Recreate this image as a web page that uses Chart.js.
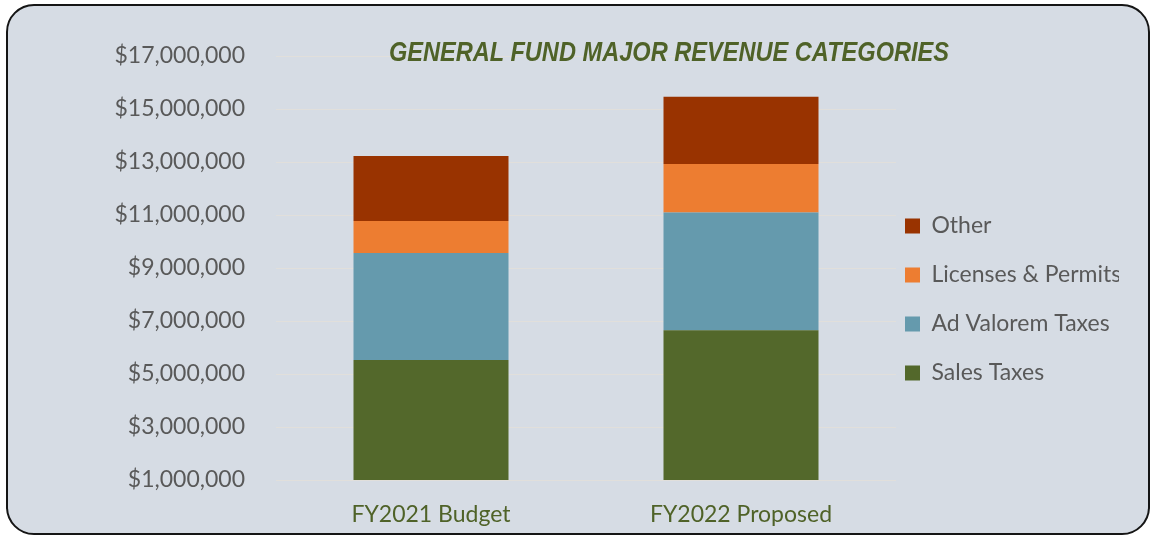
<!DOCTYPE html>
<html>
<head>
<meta charset="utf-8">
<title>General Fund Major Revenue Categories</title>
<script src="https://cdn.jsdelivr.net/npm/chart.js@4.4.0/dist/chart.umd.min.js"></script>
<style>
  html, body { margin: 0; padding: 0; background: #fff; }
  body { width: 1151px; height: 535px; overflow: hidden; position: relative; }
  .frame {
    position: absolute; left: 6px; top: 4px; width: 1144px; height: 531px;
    box-sizing: border-box; border: 2px solid #151515; border-radius: 28px;
    background: #d6dce4;
  }
  .chart-wrap { position: absolute; left: 0; top: 0; width: 1151px; height: 543px; }
  .chart-title {
    position: absolute; left: 0; top: 38px; width: 1338px;
    text-align: center; white-space: nowrap;
    font: italic bold 28px/28px "Liberation Sans", Arial, sans-serif;
    color: #4f6228;
    transform: scaleX(0.8425); transform-origin: 50% 0;
  }
</style>
</head>
<body>
<div class="frame"></div>
<div class="chart-wrap"><canvas id="revenueChart"></canvas></div>
<div class="chart-title">GENERAL FUND MAJOR REVENUE CATEGORIES</div>

<script>
// ====== Data ======
const CATEGORIES = ["FY2021 Budget", "FY2022 Proposed"];
const SALES_TAXES = [5530000, 6650000];
const AD_VALOREM = [4040000, 4440000];
const LICENSES = [1200000, 1830000];
const OTHER = [2460000, 2540000];
const Y_MIN = 1000000;
const Y_MAX = 17000000;
const Y_STEP = 2000000;

// ====== Colours ======
const GREY_TEXT = "#595959";
const OLIVE = "#4f6228";

function money(v) {
  return "$" + Number(v).toLocaleString("en-US");
}

// legend sits 9px right of the plot, but rows need a bigger padding
const nudgeLegend = {
  id: "nudgeLegend",
  afterLayout(chart) {
    const lg = chart.legend;
    const shift = (chart.chartArea.right + 9) - (lg.left + lg.options.labels.padding);
    lg.left += shift;
    lg.right += shift;
  }
};

function drawChart() {
  Chart.defaults.font.family = "Lato, 'Open Sans', sans-serif";
  const ctx = document.getElementById("revenueChart").getContext("2d");
  new Chart(ctx, {
    type: "bar",
    data: {
      labels: CATEGORIES,
      datasets: [
        { label: "Sales Taxes", data: SALES_TAXES, backgroundColor: "#53682b" },
        { label: "Ad Valorem Taxes", data: AD_VALOREM, backgroundColor: "#659aad" },
        { label: "Licenses & Permits", data: LICENSES, backgroundColor: "#ed7d31" },
        { label: "Other", data: OTHER, backgroundColor: "#993300" }
      ].map(d => Object.assign(d, { borderWidth: 0, barPercentage: 0.5, categoryPercentage: 1.0 }))
    },
    options: {
      responsive: true,
      maintainAspectRatio: false,
      animation: false,
      layout: { padding: { top: 56, right: 15, bottom: 0, left: 0 } },
      plugins: {
        title: { display: false },
        tooltip: { enabled: false },
        legend: {
          position: "right",
          reverse: true,
          maxWidth: 240,
          labels: {
            boxWidth: 15,
            boxHeight: 15,
            padding: 26,
            color: GREY_TEXT,
            font: { size: 23 }
          }
        }
      },
      scales: {
        x: {
          stacked: true,
          grid: { display: false },
          border: { display: false },
          ticks: { color: OLIVE, font: { size: 23 }, padding: 13 },
          afterFit(scale) { scale.height = 63; }
        },
        y: {
          stacked: true,
          min: Y_MIN,
          max: Y_MAX,
          grid: { color: "#e1dfdb", lineWidth: 1, drawTicks: false },
          border: { display: false },
          ticks: {
            stepSize: Y_STEP,
            color: GREY_TEXT,
            font: { size: 23 },
            padding: 31,
            callback: v => money(v)
          },
          afterFit(scale) { scale.width = 276; }
        }
      }
    },
    plugins: [nudgeLegend]
  });
}

// ====== Initialize ======
document.fonts.load("23px Lato").then(drawChart, drawChart);
</script>
</body>
</html>
